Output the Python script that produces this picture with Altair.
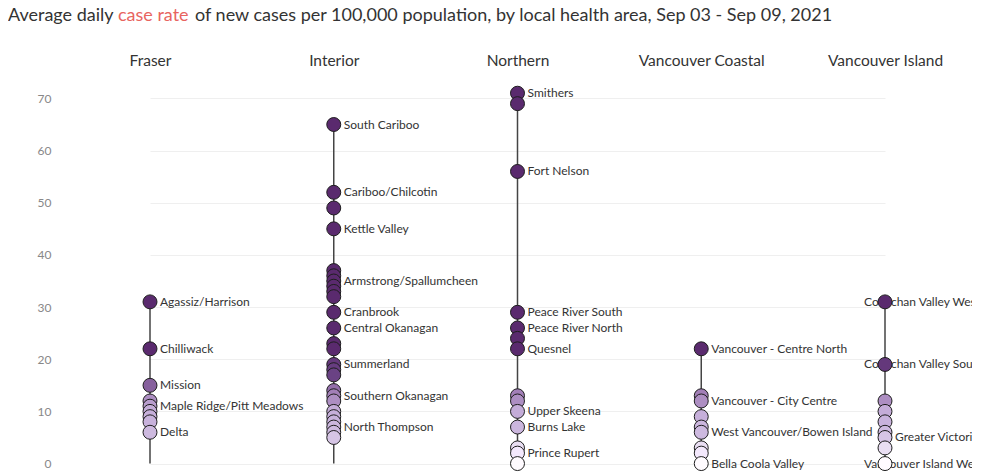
import altair as alt
import pandas as pd

REGIONS = ["Fraser", "Interior", "Northern", "Vancouver Coastal", "Vancouver Island"]

fraser_rates = [31, 22, 15, 12, 11, 10, 9, 8, 6]
fraser_labels = ["Agassiz/Harrison", "Chilliwack", "Mission", "", "Maple Ridge/Pitt Meadows",
                 "", "", "", "Delta"]

interior_rates = [65, 52, 49, 45, 37, 36, 35, 34, 33, 32, 29, 26, 23, 22, 19, 18, 17,
                  14, 13, 12, 10, 9, 8, 7, 6, 5]
interior_labels = ["South Cariboo", "Cariboo/Chilcotin", "", "Kettle Valley", "", "",
                   "Armstrong/Spallumcheen", "", "", "", "Cranbrook", "Central Okanagan",
                   "", "", "Summerland", "", "", "", "Southern Okanagan", "", "", "", "",
                   "North Thompson", "", ""]

northern_rates = [71, 69, 56, 29, 26, 24, 22, 13, 12, 10, 7, 3, 2, 0]
northern_labels = ["Smithers", "", "Fort Nelson", "Peace River South", "Peace River North",
                   "", "Quesnel", "", "", "Upper Skeena", "Burns Lake", "", "Prince Rupert", ""]

coastal_rates = [22, 13, 12, 9, 7, 6, 3, 2, 0]
coastal_labels = ["Vancouver - Centre North", "", "Vancouver - City Centre", "", "",
                  "West Vancouver/Bowen Island", "", "", "Bella Coola Valley"]

island_rates = [31, 19, 12, 10, 8, 6, 5, 3, 0]
island_labels = ["Cowichan Valley West", "Cowichan Valley South", "", "", "", "",
                 "Greater Victoria", "", "Vancouver Island West"]

Y_TICKS = [0, 10, 20, 30, 40, 50, 60, 70]

TITLE_A = "Average daily "
TITLE_B = "case rate"
TITLE_C = "of new cases per 100,000 population, by local health area, Sep 03 - Sep 09, 2021"

rows = []
for reg, rates, labels in zip(
        REGIONS,
        [fraser_rates, interior_rates, northern_rates, coastal_rates, island_rates],
        [fraser_labels, interior_labels, northern_labels, coastal_labels, island_labels]):
    for r, l in zip(rates, labels):
        rows.append({"region": reg, "rate": r, "label": l})
df = pd.DataFrame(rows)

FONT = "Lato"

x_enc = alt.X("region:N", sort=REGIONS,
              scale=alt.Scale(type="point", range=[93, 828], padding=0),
              axis=alt.Axis(orient="top", title=None, labelAngle=0, labelFontSize=15.5,
                            labelColor="#333333", labelFont=FONT, ticks=False,
                            domain=False, grid=False, labelPadding=20))
y_scale = alt.Scale(domain=[-2, 72], nice=False, zero=False)

base = alt.Chart(df)

rules = base.transform_aggregate(
    top="max(rate)", groupby=["region"]
).transform_calculate(bottom="0").mark_rule(color="#444444", strokeWidth=1.5).encode(
    x=x_enc,
    y=alt.Y("top:Q", scale=y_scale,
            axis=alt.Axis(values=Y_TICKS, title=None, ticks=False, domain=False,
                          labelColor="#888888", labelFontSize=12, labelFont=FONT,
                          labelPadding=6, gridColor="#efefef", gridWidth=1)),
    y2="bottom:Q",
)

labels_right = base.transform_filter(
    "datum.label != '' && !(datum.region == 'Vancouver Island' && length(datum.label) >= 20)"
).mark_text(align="left", baseline="middle", dx=10, fontSize=12, font=FONT,
            color="#333333").encode(
    x=x_enc, y=alt.Y("rate:Q", scale=y_scale), text="label:N")

labels_shift = base.transform_filter(
    "datum.label != '' && datum.region == 'Vancouver Island' && length(datum.label) >= 20"
).mark_text(align="left", baseline="middle", dx=-21, fontSize=12, font=FONT,
            color="#333333").encode(
    x=x_enc, y=alt.Y("rate:Q", scale=y_scale), text="label:N")

points = base.mark_point(filled=True, size=195, stroke="#1e1e1e", strokeWidth=1,
                         opacity=1).encode(
    x=x_enc,
    y=alt.Y("rate:Q", scale=y_scale),
    fill=alt.Fill("rate:Q", legend=None,
                  scale=alt.Scale(domain=[0, 3, 6, 10, 13, 17, 22],
                                  range=["#ffffff", "#e9def2", "#cdb9df", "#c4acd8",
                                         "#a27fb7", "#6a4284", "#5a2a6e"],
                                  clamp=True)),
    order=alt.Order("rate:Q", sort="descending"),
)

tdf = pd.DataFrame({"a": [TITLE_A], "b": [TITLE_B], "c": [TITLE_C]})
tbase = alt.Chart(tdf)
t1 = tbase.mark_text(align="left", baseline="middle", fontSize=18, font=FONT,
                     color="#333333").encode(text="a:N", x=alt.value(-49), y=alt.value(-72))
t2 = tbase.mark_text(align="left", baseline="middle", fontSize=18, font=FONT,
                     color="#e8645f").encode(text="b:N", x=alt.value(61), y=alt.value(-72))
t3 = tbase.mark_text(align="left", baseline="middle", fontSize=18, font=FONT,
                     color="#333333").encode(text="c:N", x=alt.value(138), y=alt.value(-72))

chart = alt.layer(rules, labels_right, labels_shift, points, t1, t2, t3).properties(
    width=915, height=386,
    autosize=alt.AutoSizeParams(type="none"),
    padding={"left": 49, "top": 80, "right": 0, "bottom": 0},
).configure_view(stroke=None).configure_axis(labelFont=FONT)

chart.save("out.html", embed_options={"renderer": "svg", "actions": False})
